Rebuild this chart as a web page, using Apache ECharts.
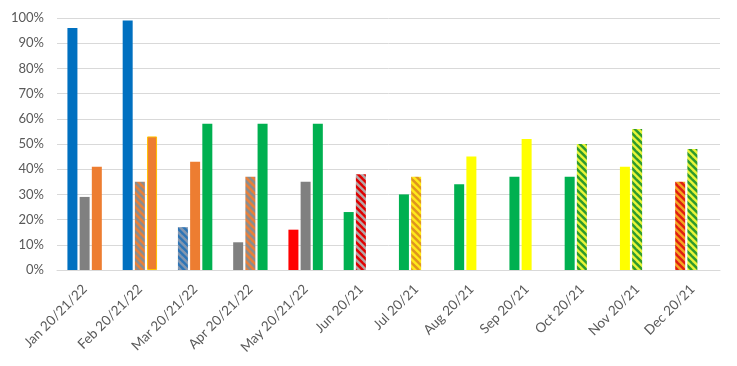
<!DOCTYPE html>
<html>
<head>
<meta charset="utf-8">
<script src="https://cdn.jsdelivr.net/npm/echarts@6/dist/echarts.min.js"></script>
<style>
html,body{margin:0;padding:0;background:#fff;}
#chart{width:737px;height:366px;}
</style>
</head>
<body>
<div id="chart"></div>
<script>
// ---- data ----
var categories = ['Jan 20/21/22','Feb 20/21/22','Mar 20/21/22','Apr 20/21/22','May 20/21/22',
  'Jun 20/21','Jul 20/21','Aug 20/21','Sep 20/21','Oct 20/21','Nov 20/21','Dec 20/21'];
var values20 = [96, 99, 17, 11, 16, 23, 30, 34, 37, 37, 41, 35];
var values21 = [29, 35, 43, 37, 35, 38, 37, 45, 52, 50, 56, 48];
var values22 = [41, 53, 58, 58, 58, null, null, null, null, null, null, null];
var yTicks = [0,10,20,30,40,50,60,70,80,90,100];

// ---- fill keys per bar (style) ----
var fill20 = ['blue','blue','blueGrey','grey','red','green','green','green','green','green','yellow','orangeRed'];
var fill21 = ['grey','orangeGrey','orange','orangeGrey','grey','redGrey','yellowOrange','yellow','yellow','yellowGreen','yellowGreen','yellowGreen'];
var fill22 = ['orange','orangeBorder','green','green','green',null,null,null,null,null,null,null];

function hatch(bg, fg) {
  var p = 7;
  var c = document.createElement('canvas');
  c.width = p; c.height = p;
  var ctx = c.getContext('2d');
  ctx.fillStyle = bg;
  ctx.fillRect(0, 0, p, p);
  ctx.fillStyle = fg;
  // "\" diagonal stripes
  for (var k = -1; k <= 1; k++) {
    var o = k * p;
    ctx.beginPath();
    ctx.moveTo(o, 0);
    ctx.lineTo(o + 3.6, 0);
    ctx.lineTo(o + 3.6 + p, p);
    ctx.lineTo(o + p, p);
    ctx.closePath();
    ctx.fill();
  }
  return { image: c, repeat: 'repeat' };
}

var styles = {
  blue:   { color: '#0070C0' },
  grey:   { color: '#808080' },
  orange: { color: '#ED7D31' },
  orangeBorder: { color: '#ED7D31', borderColor: '#FFC000', borderWidth: 1 },
  green:  { color: '#00B050' },
  red:    { color: '#FF0000' },
  yellow: { color: '#FFFF00' },
  blueGrey:     { color: hatch('#2E75B6', '#8497B0') },
  orangeGrey:   { color: hatch('#E8803A', '#8C8C8C') },
  redGrey:      { color: hatch('#B4A7A7', '#E00000') },
  yellowOrange: { color: hatch('#FFE81A', '#E0961E') },
  yellowGreen:  { color: hatch('#E8F53A', '#2E9A2E') },
  orangeRed:    { color: hatch('#F5A623', '#E01E10') }
};

function build(values, fills) {
  return values.map(function (v, i) {
    if (v == null) return null;
    return { value: v, itemStyle: styles[fills[i]] };
  });
}

var labelFont = 'Lato, "Noto Sans", sans-serif';
var chart = echarts.init(document.getElementById('chart'), null, { renderer: 'canvas' });
chart.setOption({
  animation: false,
  backgroundColor: '#fff',
  grid: { left: 57, right: 17, top: 18, bottom: 96, containLabel: false },
  xAxis: {
    type: 'category',
    data: categories,
    axisTick: { show: false },
    axisLine: { lineStyle: { color: '#D9D9D9', width: 1 } },
    axisLabel: { rotate: 45, interval: 0, margin: 17, color: '#595959', fontSize: 13.5, fontFamily: labelFont }
  },
  yAxis: {
    type: 'value',
    min: yTicks[0], max: yTicks[yTicks.length - 1], interval: 10,
    axisLine: { show: false },
    axisTick: { show: false },
    splitLine: { lineStyle: { color: '#D9D9D9', width: 1 } },
    axisLabel: { formatter: '{value}%', margin: 13, color: '#595959', fontSize: 13, fontFamily: labelFont }
  },
  series: [
    { name: '20', type: 'bar', barWidth: 10, barGap: '22%', data: build(values20, fill20) },
    { name: '21', type: 'bar', barWidth: 10, barGap: '22%', data: build(values21, fill21) },
    { name: '22', type: 'bar', barWidth: 10, barGap: '22%', data: build(values22, fill22) }
  ]
});
</script>
</body>
</html>
